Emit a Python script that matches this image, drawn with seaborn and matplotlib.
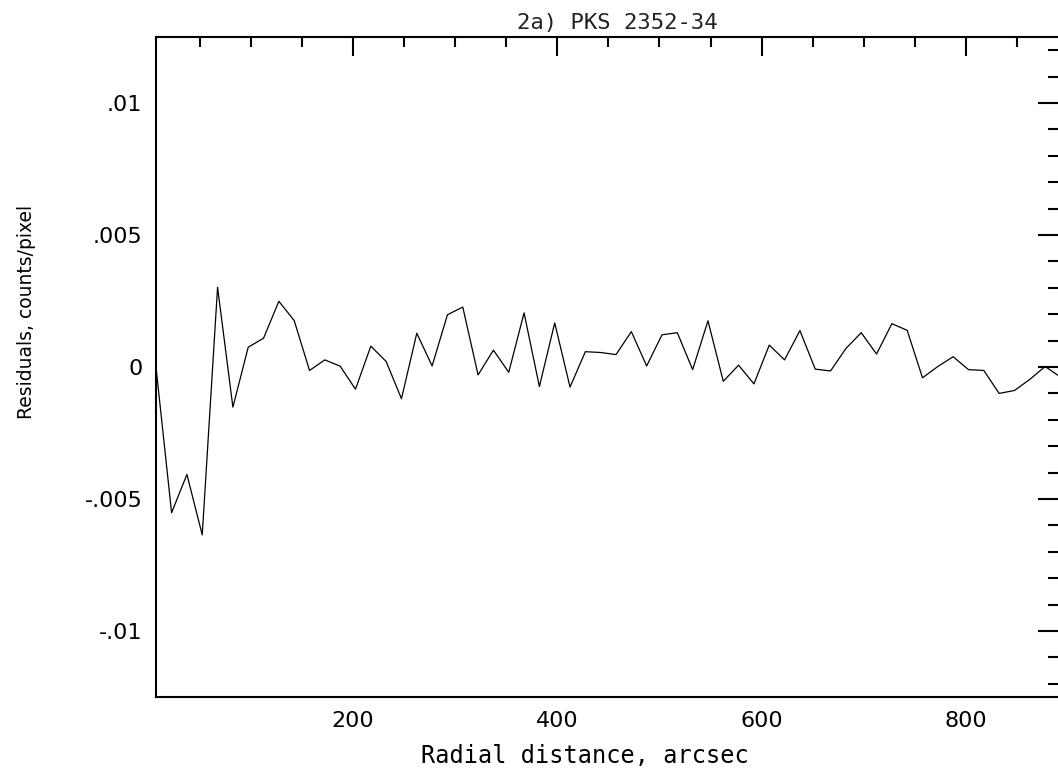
import numpy as np
import pandas as pd
import matplotlib
matplotlib.use("Agg")
import matplotlib.pyplot as plt
from matplotlib.ticker import MultipleLocator, FixedLocator, FixedFormatter
import seaborn as sns

# Radial bins: 15 arcsec wide, centred on 7.5 + 15k
radius = [7.5 + 15 * k for k in range(60)]
residuals = [
    -0.0001, -0.00552, -0.00407, -0.00636, 0.00302, -0.00152, 0.00075, 0.00109,
    0.00249, 0.00176, -0.00013, 0.00027, 0.00003, -0.00084, 0.00079, 0.00021,
    -0.00120, 0.00128, 0.00004, 0.00198, 0.00227, -0.00030, 0.00064, -0.00020,
    0.00205, -0.00074, 0.00167, -0.00076, 0.00058, 0.00055, 0.00047, 0.00134,
    0.00004, 0.00122, 0.00130, -0.00010, 0.00175, -0.00054, 0.00007, -0.00064,
    0.00083, 0.00027, 0.00138, -0.00008, -0.00015, 0.00070, 0.00130, 0.00049,
    0.00164, 0.00139, -0.00041, 0.00002, 0.00039, -0.00010, -0.00013, -0.00100,
    -0.00089, -0.00047, 0.00002, -0.00038,
]
y_tick_values = [-0.01, -0.005, 0.0, 0.005, 0.01]
y_tick_labels = ["-.01", "-.005", "0", ".005", ".01"]
x_tick_values = [200, 400, 600, 800]
x_tick_labels = ["200", "400", "600", "800"]

df = pd.DataFrame({"r": radius, "res": residuals})

sns.set_style("white")
plt.rcParams["font.family"] = ["DejaVu Sans"]

fig = plt.figure(figsize=(10.58, 7.76), dpi=100)
ax = fig.add_axes([0.1477, 0.1018, 0.8546, 0.8505])

sns.lineplot(data=df, x="r", y="res", ax=ax, color="black", linewidth=0.9,
             estimator=None, sort=False)

ax.set_xlim(7.5, 892.5)
ax.set_ylim(-0.0125, 0.0125)

ax.xaxis.set_major_locator(FixedLocator(x_tick_values))
ax.xaxis.set_major_formatter(FixedFormatter(x_tick_labels))
ax.xaxis.set_minor_locator(MultipleLocator(50))
ax.yaxis.set_major_locator(FixedLocator(y_tick_values))
ax.yaxis.set_major_formatter(FixedFormatter(y_tick_labels))
ax.yaxis.set_minor_locator(MultipleLocator(0.001))

for s in ax.spines.values():
    s.set_linewidth(1.5)
    s.set_color("black")

ax.tick_params(axis="both", which="both", direction="in", top=True, right=True,
               width=1.5, color="black", labelsize=16, labelcolor="black")
ax.tick_params(axis="x", which="major", length=13.7, pad=10)
ax.tick_params(axis="x", which="minor", length=7.2)
ax.tick_params(axis="y", which="major", length=15.8, pad=10)
ax.tick_params(axis="y", which="minor", length=8.6)

ax.set_xlabel("Radial distance, arcsec", family="DejaVu Sans Mono",
              fontsize=17, color="black")
ax.xaxis.set_label_coords(0.474, -0.089, transform=ax.transAxes)
ax.xaxis.label.set_verticalalignment("center")

ax.set_ylabel("Residuals, counts/pixel", fontsize=13.5, color="black")
ax.yaxis.set_label_coords(-0.144, 0.584, transform=ax.transAxes)
ax.yaxis.label.set_verticalalignment("center")

ax.set_title("2a) PKS 2352-34", family="DejaVu Sans Mono", fontsize=16,
             color="#222222", x=0.510, pad=6)

fig.savefig("out.png", dpi=100)
